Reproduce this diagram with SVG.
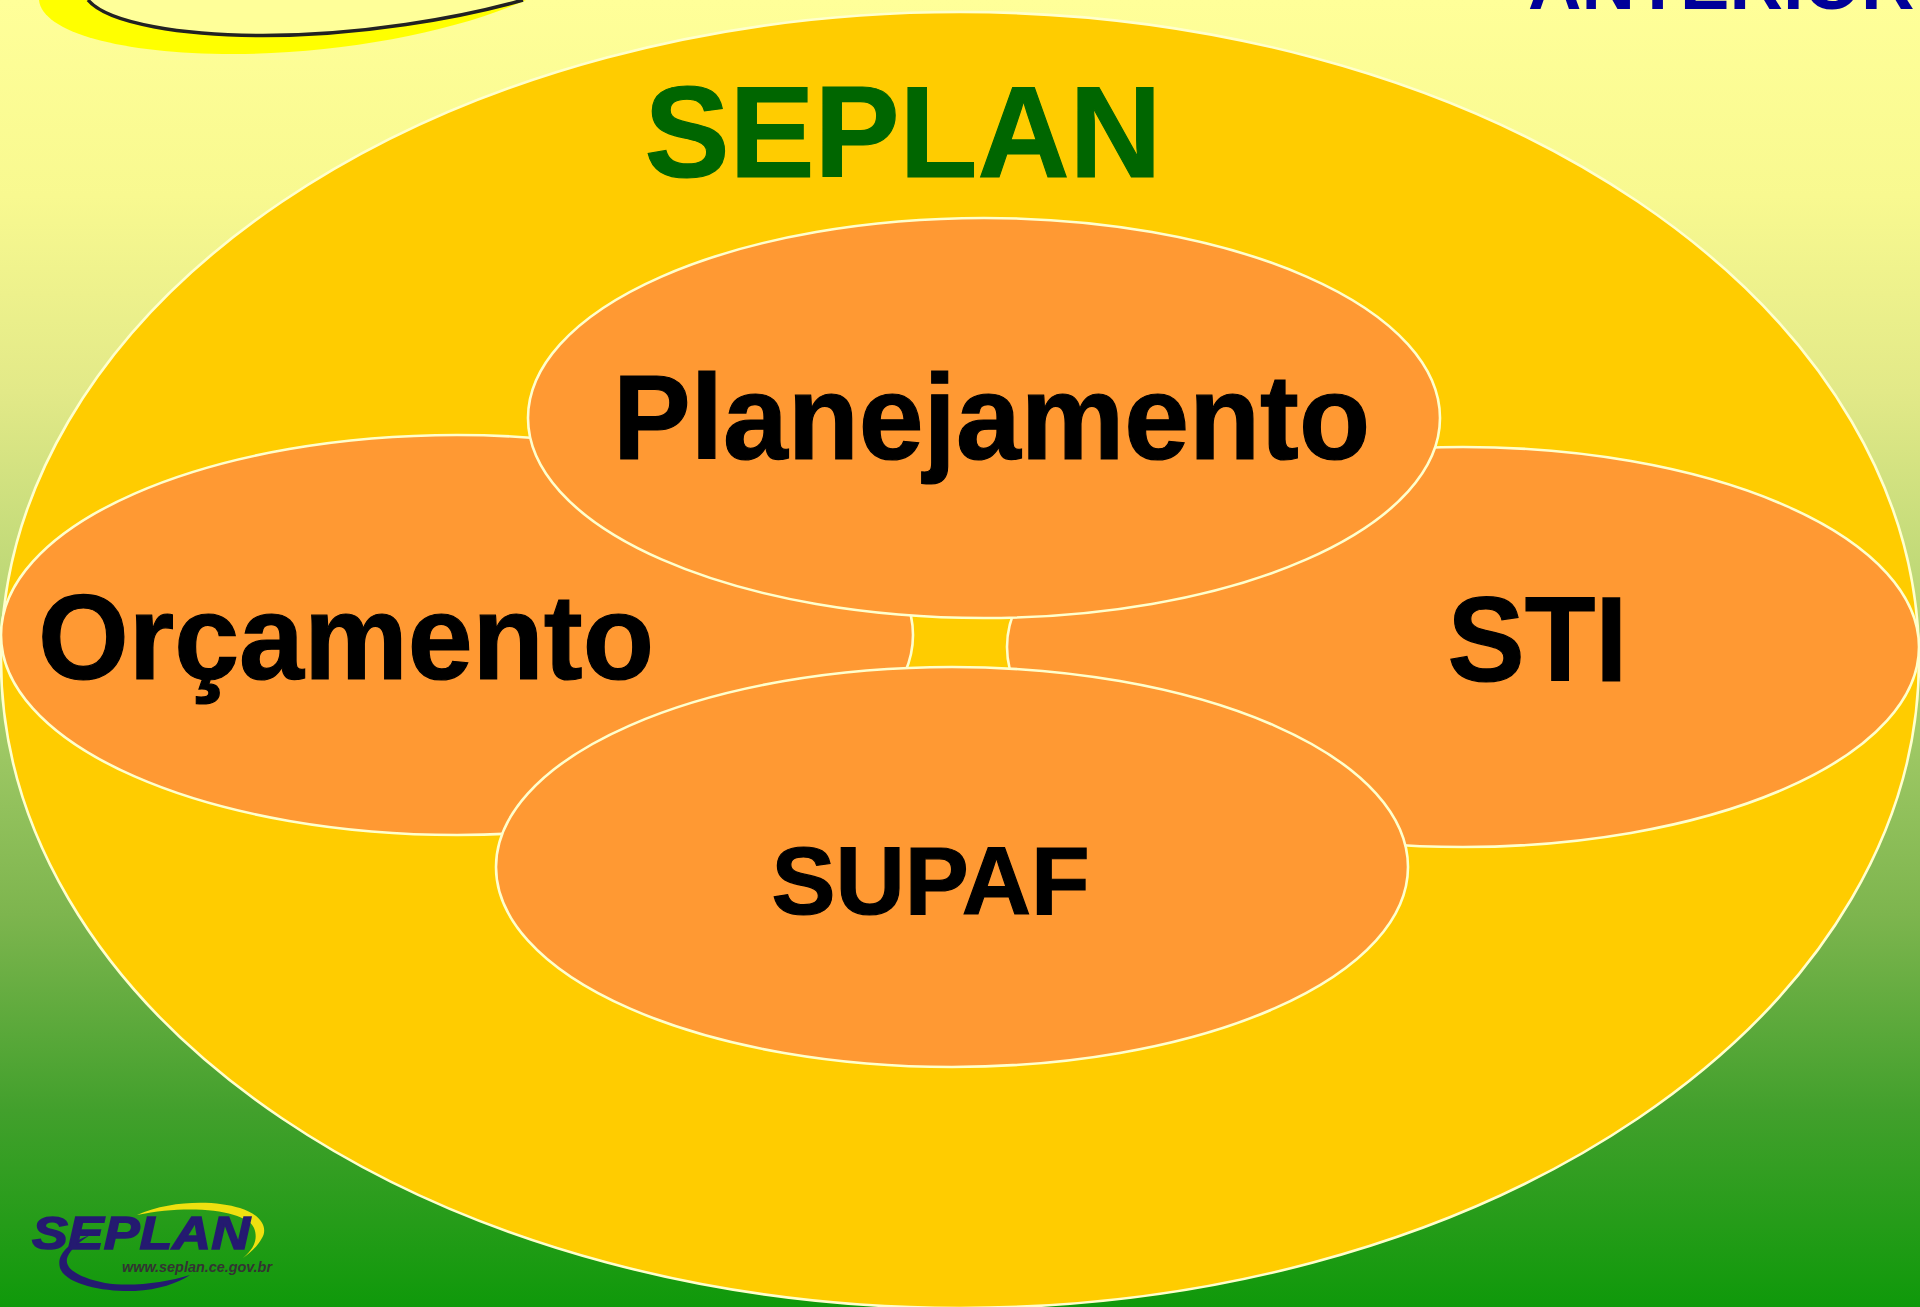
<svg xmlns="http://www.w3.org/2000/svg" width="1920" height="1307" viewBox="0 0 1920 1307">
<defs>
<linearGradient id="bg" x1="0" y1="0" x2="0" y2="1">
<stop offset="0" stop-color="#FFFF99"/><stop offset="0.15" stop-color="#F8F990"/><stop offset="0.3" stop-color="#E2E988"/><stop offset="0.5" stop-color="#B0D270"/><stop offset="0.7" stop-color="#7DB54E"/><stop offset="0.85" stop-color="#42A02C"/><stop offset="1" stop-color="#0F990A"/>
</linearGradient>
</defs>
<style>
.e{fill:#FF9933;stroke:#FFFFCC;stroke-width:2.6}
.t{font-family:"Liberation Sans",Arial,sans-serif;font-weight:700;fill:#000;stroke:#000;stroke-width:1.2;text-anchor:middle}
.l{font-family:"Liberation Sans",Arial,sans-serif;font-weight:700;font-style:italic}
</style>
<rect width="1920" height="1307" fill="url(#bg)"/>
<g id="top-swoosh">
<path d="M39 0C42 32 120 54 233 54C340 54 455 32 526 0Z" fill="#FFFF00"/>
<path d="M88 0C108 24 185 35.500 263 35.500C360 35.500 460 18 523 0" fill="#FFFF99" stroke="#222" stroke-width="3.500"/>
</g>
<text x="1528" y="9" font-family="'Liberation Sans',Arial,sans-serif" font-weight="700" font-size="74" fill="#000099">ANTERIOR</text>
<g id="seplan">
<ellipse cx="960" cy="660" rx="959" ry="648" fill="#FFCC00" stroke="#FFFFCC" stroke-width="2.600"/>
<text class="t" x="903" y="177" font-size="130" textLength="517" lengthAdjust="spacingAndGlyphs" style="fill:#006600;stroke:#006600">SEPLAN</text>
</g>
<g id="orcamento">
<ellipse class="e" cx="457" cy="635" rx="456" ry="200"/>
<text class="t" x="346" y="679" font-size="120" textLength="616" lengthAdjust="spacingAndGlyphs">Orçamento</text>
</g>
<g id="sti">
<ellipse class="e" cx="1463" cy="647" rx="456" ry="200"/>
<text class="t" x="1537.500" y="681" font-size="120" textLength="180" lengthAdjust="spacingAndGlyphs">STI</text>
</g>
<g id="supaf">
<ellipse class="e" cx="952" cy="867" rx="456" ry="200"/>
<text class="t" x="930.500" y="914" font-size="96">SUPAF</text>
</g>
<g id="planejamento">
<ellipse class="e" cx="984" cy="418" rx="456" ry="200"/>
<text class="t" x="991.500" y="459" font-size="120" textLength="757" lengthAdjust="spacingAndGlyphs">Planejamento</text>
</g>
<g id="connectors"/>
<g id="logo">
<path d="M137 1215C170 1200 215 1200 240 1208C262 1215 268 1228 262 1238C258 1246 250 1253 243 1258C255 1248 258 1238 254 1228C248 1212 195 1203 137 1215Z" fill="#EEE010"/>
<path d="M90 1235C70 1242 56 1254 60 1268C66 1285 105 1292 135 1291C158 1290 178 1283 190 1275C165 1283 130 1287 105 1283C80 1278 60 1268 69 1254C73 1247 81 1241 90 1235Z" fill="#241A70"/>
<text class="l" x="32" y="1249" font-size="47" textLength="218" lengthAdjust="spacingAndGlyphs" fill="#241A70" stroke="#241A70" stroke-width="1.500">SEPLAN</text>
<text class="l" x="122" y="1272" font-size="15" textLength="150" lengthAdjust="spacingAndGlyphs" fill="#333">www.seplan.ce.gov.br</text>
</g>
</svg>
